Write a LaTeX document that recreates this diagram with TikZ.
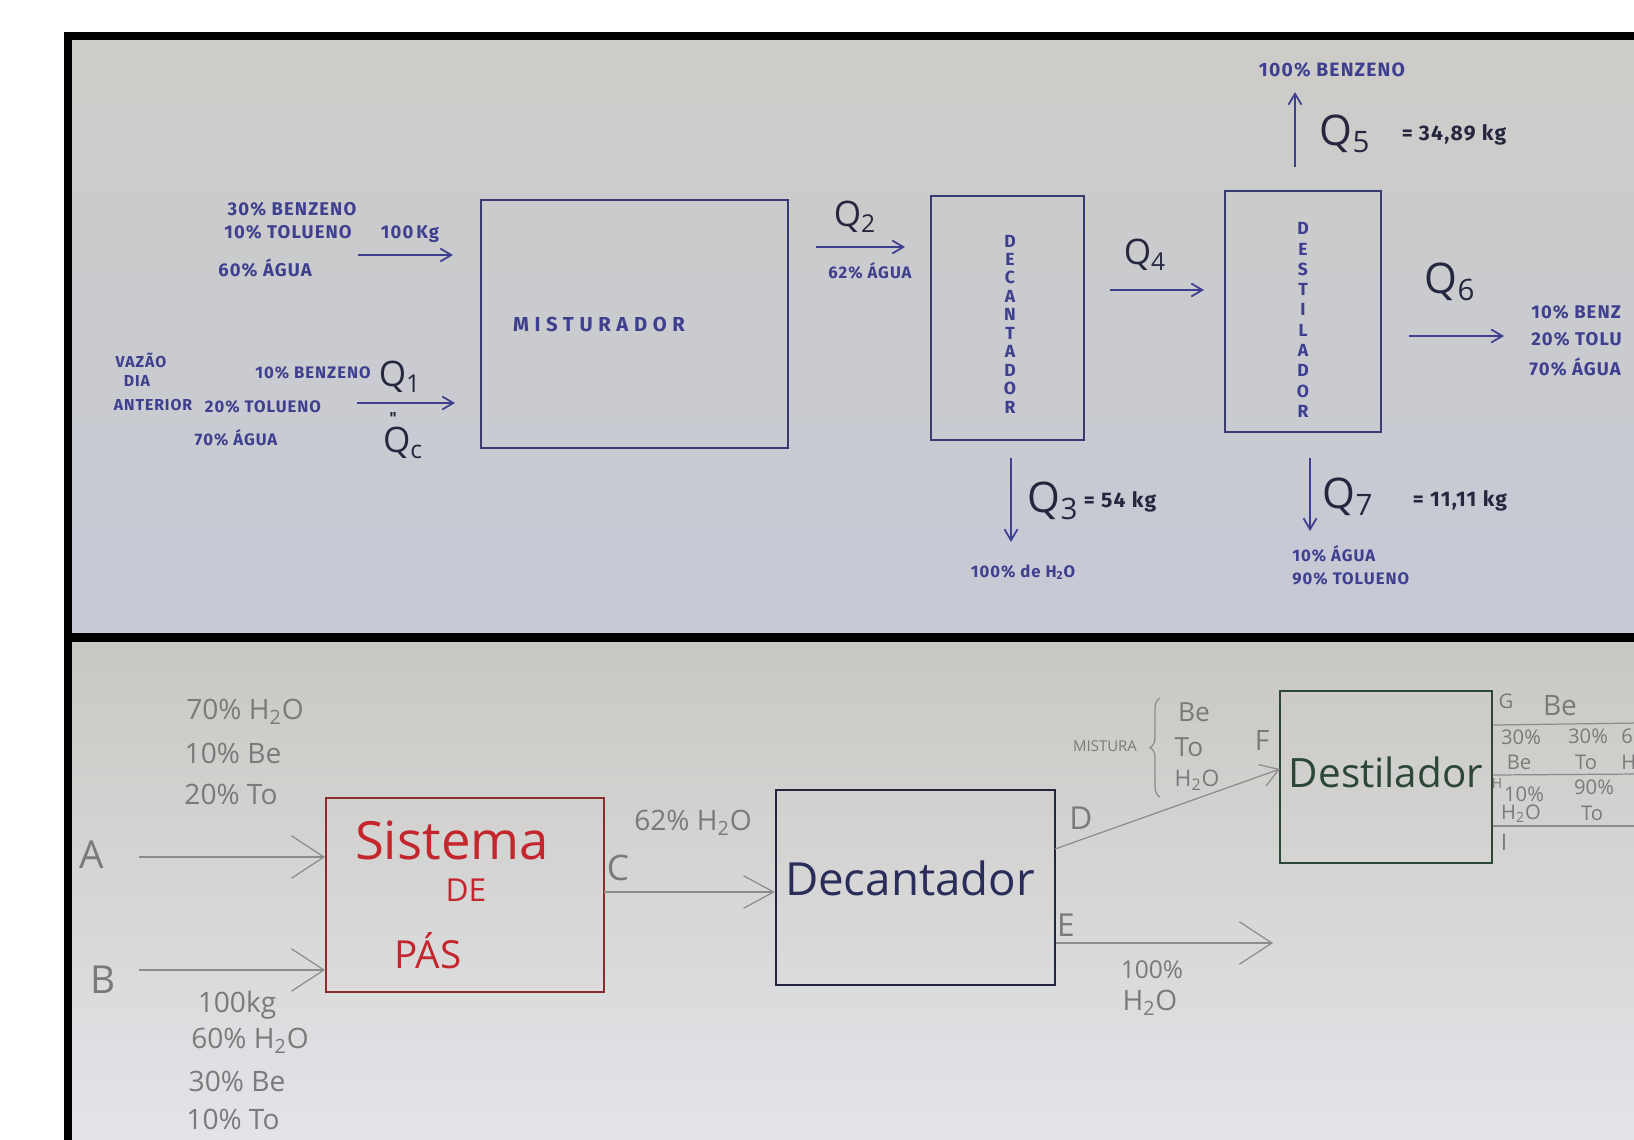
\documentclass[tikz,border=0pt]{standalone}
\usepackage{fontspec}
\setmainfont{Open Sans}
\newfontfamily\blockfont{Fira Sans}[LetterSpace=6]
\newfontfamily\wideblock{Fira Sans}[LetterSpace=28]
\usetikzlibrary{arrows.meta,decorations.pathreplacing}

\definecolor{ink}{HTML}{3E3F8E}
\definecolor{qink}{HTML}{26263E}
\definecolor{boxink}{HTML}{393A72}
\definecolor{pencil}{HTML}{7A7A7A}
\definecolor{pline}{HTML}{8C8C8C}
\definecolor{redink}{HTML}{C4262E}
\definecolor{redbox}{HTML}{8C2C2C}
\definecolor{navy}{HTML}{2A2D5A}
\definecolor{navybox}{HTML}{23263F}
\definecolor{greenink}{HTML}{2C4638}
\definecolor{paperA}{HTML}{CDCCC8}
\definecolor{paperB}{HTML}{C6CAD6}
\definecolor{paperC}{HTML}{C9C8C3}
\definecolor{paperD}{HTML}{E3E4E9}

\tikzset{
  caps/.style={text=ink, inner sep=0pt, font=\blockfont\bfseries\fontsize{10.5}{12}\selectfont},
  smallcaps/.style={text=ink, inner sep=0pt, font=\blockfont\bfseries\fontsize{9.5}{11}\selectfont},
  qbig/.style={text=qink, inner sep=0pt, font=\fontsize{24}{26}\selectfont},
  qmid/.style={text=qink, inner sep=0pt, font=\fontsize{20}{22}\selectfont},
  qval/.style={text=qink, inner sep=0pt, font=\blockfont\bfseries\fontsize{12}{14}\selectfont},
  tbox/.style={draw=boxink, line width=1.6pt, inner sep=0pt},
  tarrow/.style={draw=ink, line width=1pt, -{Straight Barb[length=0.22cm,width=0.26cm]}},
  pen/.style={text=pencil, inner sep=0pt, font=\fontsize{16}{18}\selectfont},
  pensmall/.style={text=pencil, inner sep=0pt, font=\fontsize{11.5}{13}\selectfont},
  parrow/.style={draw=pline, line width=0.7pt, -{Straight Barb[length=0.65cm,width=0.85cm,line width=0.7pt]}},
  pline/.style={draw=pline, line width=0.7pt},
}

\begin{document}
\begin{tikzpicture}[x=0.02cm,y=-0.02cm]
\clip (0,0) rectangle (1634,1140);
\fill[white] (0,0) rectangle (1634,1140);

% paper of the two panels
\shade[top color=paperA,bottom color=paperB] (72,40) rectangle (1634,633);
\shade[top color=paperC,bottom color=paperD] (72,642) rectangle (1634,1140);

% black frame and separator
\fill[black] (64,32) rectangle (1634,40);
\fill[black] (64,32) rectangle (72,1140);
\fill[black] (64,633) rectangle (1634,642);

% ================= upper panel =================
% feed streams
\node[caps] (f1a) at (292,209) {30\% BENZENO};
\node[caps] (f1b) at (288,232) {10\% TOLUENO};
\node[caps] (f1c) at (265,268) {60\% ÁGUA};
\node[caps] (f1m) at (410,234) {100\,Kg};
\coordinate (in1s) at (358,255);
\coordinate (in1e) at (453,255);
\draw[tarrow] (in1s) -- (in1e);

\node[smallcaps, font=\blockfont\bfseries\fontsize{9}{10}\selectfont] (v1) at (141,360) {VAZÃO};
\node[smallcaps, font=\blockfont\bfseries\fontsize{9}{10}\selectfont] (v2) at (137,381) {DIA};
\node[smallcaps, font=\blockfont\bfseries\fontsize{9}{10}\selectfont] (v3) at (153,405) {ANTERIOR};
\node[smallcaps] (f2a) at (313,373) {10\% BENZENO};
\node[smallcaps] (f2b) at (263,407) {20\% TOLUENO};
\node[smallcaps] (f2c) at (236,438) {70\% ÁGUA};
\node[qmid] (q1) at (400,377) {Q\textsubscript{1}};
\node[text=qink, inner sep=0pt, font=\blockfont\bfseries\fontsize{9}{9}\selectfont] (eqv) at (393,418) {"};
\node[qmid] (qc) at (403,443) {Q\textsubscript{c}};
\coordinate (in2s) at (357,403);
\coordinate (in2e) at (455,403);
\draw[tarrow] (in2s) -- (in2e);

% mixer
\node[tbox, minimum width=6.14cm, minimum height=4.96cm] (mist) at (634.5,324) {};
\node[text=ink, inner sep=0pt, font=\wideblock\bfseries\fontsize{11.5}{13}\selectfont] (mistlab) at (599,324) {MISTURADOR};

% Q2
\node[qmid] (q2) at (855,217) {Q\textsubscript{2}};
\node[smallcaps] (q2c) at (870,271) {62\% ÁGUA};
\coordinate (q2s) at (816,247);
\coordinate (q2e) at (905,247);
\draw[tarrow] (q2s) -- (q2e);

% decanter
\node[tbox, minimum width=3.06cm, minimum height=4.88cm] (decT) at (1007.5,318) {};
\node[smallcaps, align=center, font=\blockfont\bfseries\fontsize{10}{10.5}\selectfont] (decTlab) at (1010,324) {D\\E\\C\\A\\N\\T\\A\\D\\O\\R};

% Q3
\coordinate (q3s) at (1011,458);
\coordinate (q3e) at (1011,542);
\draw[tarrow] (q3s) -- (q3e);
\node[qbig] (q3) at (1053,501) {Q\textsubscript{3}};
\node[qval] (q3v) at (1120,502) {= 54 kg};
\node[smallcaps] (q3c) at (1023,572) {100\% de H\textsubscript{2}O};

% Q4
\node[qmid] (q4) at (1145,255) {Q\textsubscript{4}};
\coordinate (q4s) at (1110,290);
\coordinate (q4e) at (1204,290);
\draw[tarrow] (q4s) -- (q4e);

% distiller
\node[tbox, minimum width=3.12cm, minimum height=4.82cm] (destT) at (1303,311.5) {};
\node[smallcaps, align=center, font=\blockfont\bfseries\fontsize{10}{11.55}\selectfont] (destTlab) at (1303,320) {D\\E\\S\\T\\I\\L\\A\\D\\O\\R};

% Q5
\coordinate (q5s) at (1295,167);
\coordinate (q5e) at (1295,92);
\draw[tarrow] (q5s) -- (q5e);
\node[caps, font=\blockfont\bfseries\fontsize{11}{12}\selectfont] (q5c) at (1332,70) {100\% BENZENO};
\node[qbig] (q5) at (1345,134) {Q\textsubscript{5}};
\node[qval] (q5v) at (1454,135) {= 34,89 kg};

% Q6
\node[qbig] (q6) at (1450,282) {Q\textsubscript{6}};
\coordinate (q6s) at (1409,336);
\coordinate (q6e) at (1504,336);
\draw[tarrow] (q6s) -- (q6e);
\node[caps, anchor=west] (q6a) at (1531,312) {10\% BENZ};
\node[caps, anchor=west] (q6b) at (1531,339) {20\% TOLU};
\node[caps, anchor=west] (q6c) at (1529,367) {70\% ÁGUA};

% Q7
\coordinate (q7s) at (1310,458);
\coordinate (q7e) at (1310,531);
\draw[tarrow] (q7s) -- (q7e);
\node[qbig] (q7) at (1348,497) {Q\textsubscript{7}};
\node[qval] (q7v) at (1460,501) {= 11,11 kg};
\node[smallcaps, anchor=west] (q7a) at (1292,554) {10\% ÁGUA};
\node[smallcaps, anchor=west] (q7b) at (1292,579) {90\% TOLUENO};

% ================= lower panel =================
\node[pen] (a1) at (245,712) {70\% H\textsubscript{2}O};
\node[pen] (a2) at (233,753) {10\% Be};
\node[pen] (a3) at (231,794) {20\% To};
\node[text=pencil, inner sep=0pt, font=\fontsize{22}{24}\selectfont] (Alab) at (92,855) {A};
\node[text=pencil, inner sep=0pt, font=\fontsize{22}{24}\selectfont] (Blab) at (103,980) {B};
\node[pen] (b1) at (237,1005) {100kg};
\node[pen] (b2) at (250,1041) {60\% H\textsubscript{2}O};
\node[pen] (b3) at (237,1081) {30\% Be};
\node[pen] (b4) at (233,1119) {10\% To};

% paddle mixer
\node[draw=redbox, line width=1.1pt, minimum width=5.56cm, minimum height=3.88cm, inner sep=0pt] (sist) at (465,895) {};
\node[text=redink, inner sep=0pt, font=\fontsize{30}{32}\selectfont] (sist1) at (452,840) {Sistema};
\node[text=redink, inner sep=0pt, font=\fontsize{18}{20}\selectfont] (sist2) at (466,890) {DE};
\node[text=redink, inner sep=0pt, font=\fontsize{22}{24}\selectfont] (sist3) at (428,951) {PÁS};

\coordinate (as) at (139,857);
\coordinate (bs) at (139,970);
\draw[parrow] (as) -- (sist.west |- as);
\draw[parrow] (bs) -- (sist.west |- bs);

% decanter
\node[draw=navybox, line width=1.3pt, minimum width=5.58cm, minimum height=3.9cm, inner sep=0pt] (decB) at (915.5,887.5) {};
\node[text=navy, inner sep=0pt, font=\fontsize{26}{28}\selectfont] (decBlab) at (910,878) {Decantador};
\coordinate (cs) at (604,892);
\draw[parrow, -{Straight Barb[length=0.6cm,width=0.65cm,line width=0.7pt]}] (cs) -- (decB.west |- cs);
\node[text=pencil, inner sep=0pt, font=\fontsize{20}{22}\selectfont] (Clab) at (618,868) {C};
\node[pen] (c1) at (693,823) {62\% H\textsubscript{2}O};

% distiller
\node[draw=greenink, line width=1.2pt, minimum width=4.24cm, minimum height=3.44cm, inner sep=0pt] (destB) at (1386,777) {};
\node[text=greenink, inner sep=0pt, font=\fontsize{23}{25}\selectfont] (destBlab) at (1386,772) {Destilador};

\coordinate (ds) at (1055,849);
\coordinate (dt) at (1280,769);
\draw[parrow, -{Straight Barb[length=0.35cm,width=0.45cm,line width=0.7pt]}] (ds) -- (dt);
\node[text=pencil, inner sep=0pt, font=\fontsize{18}{20}\selectfont] (Dlab) at (1081,818) {D};
\node[text=pencil, inner sep=0pt, font=\fontsize{16}{18}\selectfont] (Flab) at (1262,740) {F};

\node[text=pencil, inner sep=0pt, font=\fontsize{8.5}{10}\selectfont] (mix) at (1105,746) {MISTURA};
\draw[draw=pline, line width=0.7pt, decorate, decoration={brace, amplitude=0.2cm}] (1160,797) -- (1160,698);
\node[pen, font=\fontsize{15}{17}\selectfont] (m1) at (1194,712) {Be};
\node[pen, font=\fontsize{15}{17}\selectfont] (m2) at (1189,747) {To};
\node[pen, font=\fontsize{13}{15}\selectfont] (m3) at (1197,780) {H\textsubscript{2}O};

\coordinate (ee) at (1273,943);
\draw[parrow] (decB.east |- ee) -- (ee);
\node[text=pencil, inner sep=0pt, font=\fontsize{18}{20}\selectfont] (Elab) at (1066,925) {E};
\node[pen, font=\fontsize{14}{16}\selectfont] (e1) at (1152,970) {100\%};
\node[pen] (e2) at (1150,1003) {H\textsubscript{2}O};

% distiller outlets
\coordinate (g1) at (1640,723);
\coordinate (h1) at (1640,774);
\coordinate (i1) at (1640,826);
\draw[pline] (destB.east |- 0,725) -- (g1);
\draw[pline] (destB.east |- 0,775) -- (h1);
\draw[pline] (destB.east |- 0,826) -- (i1);
\node[pensmall] (Glab) at (1506,701) {G};
\node[pen, font=\fontsize{16}{18}\selectfont] (gBe) at (1560,706) {Be};
\node[pensmall] (r1a) at (1521,737) {30\%};
\node[pensmall] (r1b) at (1588,736) {30\%};
\node[pensmall, anchor=west] (r1c) at (1621,736) {6};
\node[pensmall] (r2a) at (1519,762) {Be};
\node[pensmall] (r2b) at (1586,762) {To};
\node[pensmall, anchor=west] (r2c) at (1621,762) {H};
\node[text=pencil, inner sep=0pt, font=\fontsize{8}{9}\selectfont] (Hlab) at (1497,783) {H};
\node[pensmall] (r3a) at (1524,794) {10\%};
\node[pensmall] (r3b) at (1594,787) {90\%};
\node[pensmall] (r4a) at (1521,814) {H\textsubscript{2}O};
\node[pensmall] (r4b) at (1592,813) {To};
\node[pensmall, font=\fontsize{13}{15}\selectfont] (Ilab) at (1504,842) {I};
\end{tikzpicture}
\end{document}
